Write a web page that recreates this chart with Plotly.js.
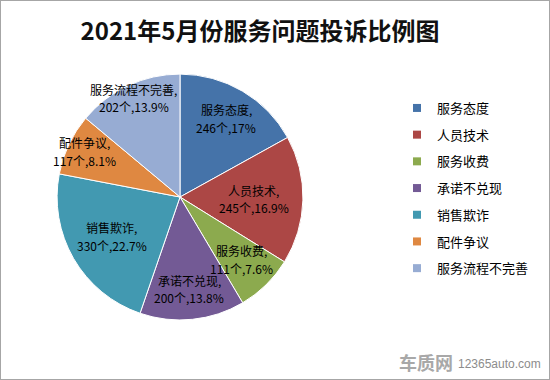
<!DOCTYPE html>
<html>
<head>
<meta charset="utf-8">
<script src="https://cdn.plot.ly/plotly-3.0.1.min.js"></script>
<style>
html,body{margin:0;padding:0;background:#fff;}
#chart{width:550px;height:380px;box-sizing:border-box;}
#frame{position:absolute;left:0;top:0;width:548px;height:378px;border:1px solid #a6a6a6;pointer-events:none;}
</style>
</head>
<body>
<div id="chart"></div>
<div id="frame"></div>
<script>
// ---- data ----
const categories = ["服务态度","人员技术","服务收费","承诺不兑现","销售欺诈","配件争议","服务流程不完善"];
const counts = [246, 245, 111, 200, 330, 117, 202];
const pctLabels = ["17%","16.9%","7.6%","13.8%","22.7%","8.1%","13.9%"];
const titleText = "2021年5月份服务问题投诉比例图";

// ---- style ----
const colors = ['#4573A9','#AC4745','#8CAA4E','#735A95','#4299B1','#DF8841','#97ACD3'];
const labelRadius = [0.74, 0.60, 0.71, 0.75, 0.64, 0.86, 0.89];
const W = 550, H = 380;
const dom = {x:[0.1036,0.551], y:[0.158,0.805]};
const font = "'Noto Sans CJK SC', 'Noto Sans', sans-serif";
const lineGap = 17.5;

const traces = [{
  type:'pie',
  values: counts,
  labels: categories,
  sort:false,
  direction:'clockwise',
  rotation:0,
  textinfo:'none',
  hoverinfo:'label+value+percent',
  marker:{colors: colors, line:{color:'#ffffff', width:1}},
  domain: dom,
  showlegend:false
}];
// legend entries
categories.forEach((c,i)=>{
  traces.push({
    type:'scatter', mode:'markers', x:[null], y:[null], name:c,
    legendgroup:'g'+i, showlegend:true,
    marker:{symbol:'square', size:8, color:colors[i]}
  });
});

// label annotations from data angles
const total = counts.reduce((a,b)=>a+b,0);
const cx = (dom.x[0]+dom.x[1])/2*W, cy = (dom.y[0]+dom.y[1])/2*H;
const R = (dom.x[1]-dom.x[0])*W/2;
let cum = 0;
const annotations = [];
counts.forEach((v,i)=>{
  const mid = (cum + v/2)/total*2*Math.PI; cum += v;
  const r = R*labelRadius[i];
  const px = cx + r*Math.sin(mid), py = cy + r*Math.cos(mid);
  const lines = [categories[i] + ',', v + '个,' + pctLabels[i]];
  lines.forEach((t,k)=>{
    annotations.push({
      xref:'paper', yref:'paper',
      x:px/W, y:(py + (k===0 ? lineGap/2 : -lineGap/2))/H,
      text:t, showarrow:false, font:{family:font, size:12, color:'#000'},
      xanchor:'center', yanchor:'middle', align:'center', borderpad:0
    });
  });
});
annotations.push({
  xref:'paper', yref:'paper', x:455/W, y:1-362/H, xanchor:'right', yanchor:'middle',
  text:'<b>车质网</b>', showarrow:false, font:{family:font, size:18, color:'#a8a8a8'}
});
annotations.push({
  xref:'paper', yref:'paper', x:543/W, y:1-364/H, xanchor:'right', yanchor:'middle',
  text:'12365auto.com', showarrow:false, font:{family:'Arial, Liberation Sans, sans-serif', size:12, color:'#8c8c8c'}
});

const layout = {
  width:W, height:H,
  margin:{l:0,r:0,t:0,b:0},
  paper_bgcolor:'#fff', plot_bgcolor:'rgba(0,0,0,0)',
  title:{text:'<b>'+titleText+'</b>', x:260/W, xanchor:'center', y:1-32/H, yanchor:'middle',
         font:{family:font, size:24, color:'#111'}},
  xaxis:{visible:false, domain:[0.9,0.91]}, yaxis:{visible:false, domain:[0.9,0.91]},
  showlegend:true,
  legend:{x:397/W, xanchor:'left', y:1-93/H, yanchor:'top', tracegroupgap:6.8,
          font:{family:font, size:13, color:'#000'}, bgcolor:'rgba(0,0,0,0)'},
  annotations: annotations
};
Plotly.newPlot('chart', traces, layout, {displayModeBar:false, staticPlot:true});
</script>
</body>
</html>
